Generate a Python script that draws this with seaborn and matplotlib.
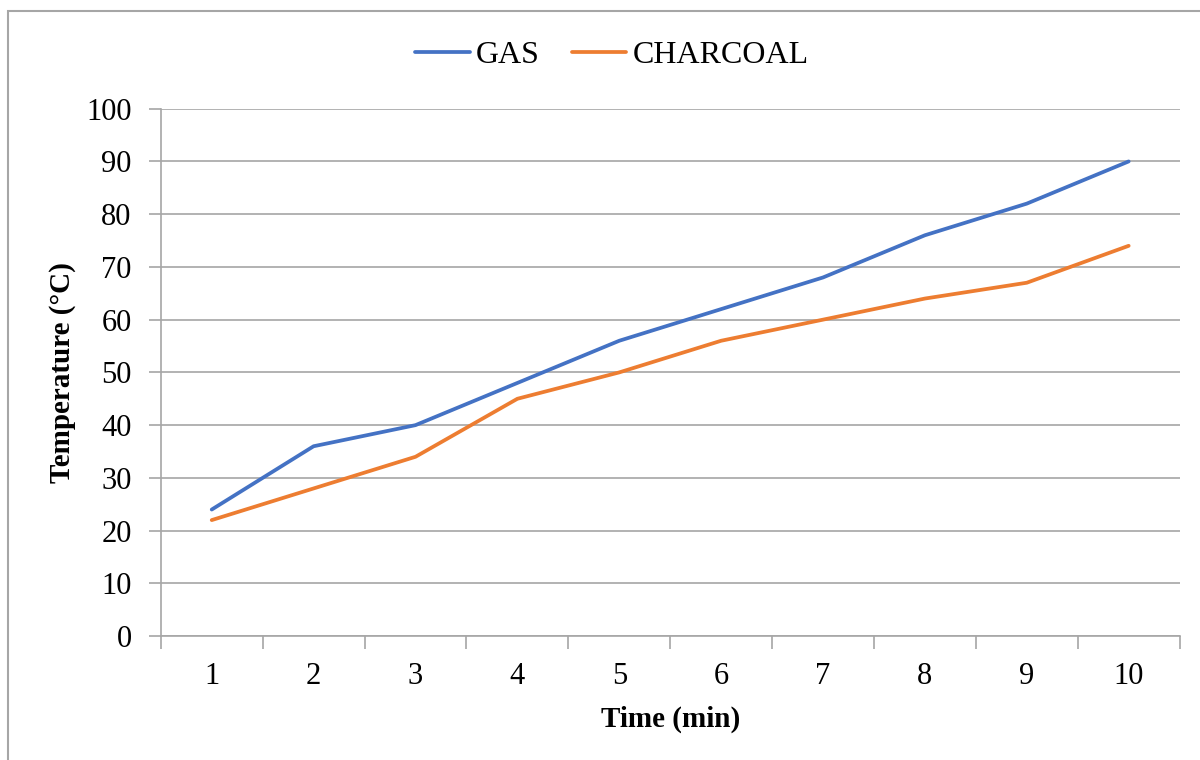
import numpy as np
import matplotlib.pyplot as plt
import seaborn as sns
import pandas as pd
from matplotlib.patches import Rectangle

# data
time_min = [1, 2, 3, 4, 5, 6, 7, 8, 9, 10]
gas = [24, 36, 40, 48, 56, 62, 68, 76, 82, 90]
charcoal = [22, 28, 34, 45, 50, 56, 60, 64, 67, 74]
series_names = ['GAS', 'CHARCOAL']
colors = ['#4472C4', '#ED7D31']

df = pd.DataFrame({
    'Time': time_min * 2,
    'Temperature': gas + charcoal,
    'Fuel': [series_names[0]] * len(gas) + [series_names[1]] * len(charcoal),
})

sns.set_theme(style='white')
plt.rcParams['font.family'] = ['Liberation Serif', 'DejaVu Serif']
plt.rcParams['text.color'] = 'black'
plt.rcParams['axes.labelcolor'] = 'black'

grid_col = '#A6A6A6'

fig = plt.figure(figsize=(12, 7.6), dpi=100)
ax = fig.add_axes([0.134, 0.163, 0.849, 0.694])

sns.lineplot(data=df, x='Time', y='Temperature', hue='Fuel',
             palette=dict(zip(series_names, colors)), linewidth=2.7,
             ax=ax, legend=True)

# category style axis: labels centered, ticks at the boundaries
ax.set_xlim(0.5, 10.5)
ax.set_ylim(0, 100)
ax.set_yticks(np.arange(0, 101, 10))
ax.set_xticks(time_min)
ax.set_xticks(np.arange(0.5, 10.6, 1), minor=True)
ax.tick_params(axis='x', which='major', bottom=True, length=0, pad=18.5,
               labelsize=22, labelcolor='black')
ax.tick_params(axis='x', which='minor', bottom=True, length=9, width=1.2,
               color=grid_col, direction='out')
ax.tick_params(axis='y', left=True, length=9, width=1.2, color=grid_col,
               direction='out', pad=12, labelsize=22, labelcolor='black')
ax.grid(axis='y', color=grid_col, linewidth=1.2)
ax.set_axisbelow(True)
for side in ['top', 'right']:
    ax.spines[side].set_visible(False)
for side in ['left', 'bottom']:
    ax.spines[side].set_color(grid_col)
    ax.spines[side].set_linewidth(1.2)

ax.set_xlabel('Time (min)', fontsize=21, fontweight='bold', labelpad=11)
ax.set_ylabel('Temperature (°C)', fontsize=21, fontweight='bold', labelpad=7)

handles, labels = ax.get_legend_handles_labels()
ax.legend(handles, labels, loc='center', bbox_to_anchor=(0.51, 0.927),
          bbox_transform=fig.transFigure, ncol=2, frameon=False,
          fontsize=23, handlelength=1.7, handletextpad=0.2, columnspacing=1.0)

# outer chart border
fig.patches.append(Rectangle((8 / 1200, -0.05), 1.2, 1 - 11 / 760 + 0.05,
                             transform=fig.transFigure, fill=False,
                             edgecolor=grid_col, linewidth=1.5))

fig.savefig('out.png', dpi=100)
